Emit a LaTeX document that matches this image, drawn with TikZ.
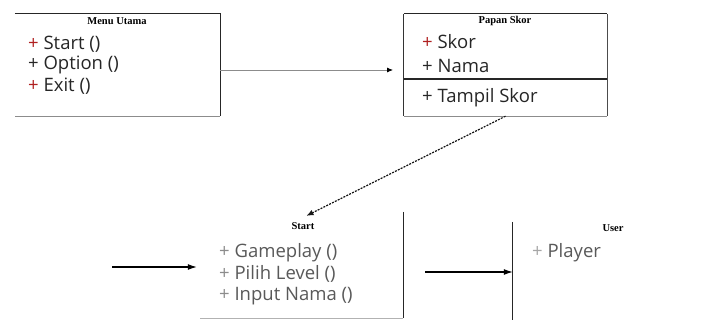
\documentclass[tikz,border=0pt]{standalone}
\usepackage{fontspec}
\setmainfont{Open Sans}
\newfontfamily\titlefont{Liberation Serif}
\usetikzlibrary{arrows.meta}
\definecolor{plusred}{HTML}{B02020}
\tikzset{
  umlbox/.style 2 args={inner sep=0pt, minimum width=#1, minimum height=#2},
  item/.style={anchor=west, inner sep=0pt, font=\fontsize{18.5}{20}\selectfont, text=black!85},
  itemlight/.style={item, text=black!65},
  ttl/.style={inner sep=0pt, font=\titlefont\bfseries\fontsize{10.5}{12}\selectfont},
  edge/.style={line width=1.3pt, black!85},
  lowedge/.style={line width=1.2pt, black!45},
  arr/.style={line width=1.1pt, -{Latex[length=9pt,width=6pt]}},
  thinarr/.style={line width=0.8pt, black!45, -{Latex[length=6pt,width=5pt,fill=black,black]}},
  dasharr/.style={line width=1.2pt, black!90, dash pattern=on 2pt off 1.2pt, -{Latex[length=7pt,width=6pt]}}
}
\begin{document}
\begin{tikzpicture}[x=1pt,y=-1pt]
\useasboundingbox[fill=white] (0,0) rectangle (707,320);

% Menu Utama
\node[umlbox={205pt}{102pt}] (mu) at (117.5,65) {};
\draw[edge] (mu.north west) -- (mu.north east) -- (mu.south east);
\draw[lowedge] (mu.south east) -- (mu.south west);
\node[ttl] (mut) at (117,21) {Menu Utama};
\node[item] (mu1) at (28,44) {\textcolor{plusred}{+} Start ()};
\node[item] (mu2) at (28,65) {+ Option ()};
\node[item] (mu3) at (28,86) {\textcolor{plusred}{+} Exit ()};

% Papan Skor
\node[umlbox={203pt}{102pt}] (ps) at (505.5,65) {};
\draw[edge] (ps.north west) -- (ps.north east);
\draw[line width=1pt, black!70] (ps.north east) -- (ps.south east);
\draw[line width=1pt, black!80] (ps.north west) -- (ps.south west);
\draw[lowedge] (ps.south west) -- (ps.south east);
\draw[edge] (ps.west |- 0,79) coordinate (psd1) -- (ps.east |- psd1);
\node[ttl] (pst) at (505,21) {Papan Skor};
\node[item] (ps1) at (422,42) {\textcolor{plusred}{+} Skor};
\node[item] (ps2) at (422,66) {+ Nama};
\node[item] (ps3) at (422,98) {+ Tampil Skor};

% arrow Menu Utama -> Papan Skor
\coordinate (a1) at (393,70);
\draw[thinarr] (mu.east |- a1) -- (a1);

% Start
\node[umlbox={203pt}{102pt}] (st) at (301.5,267) {};
\draw[edge] ([yshift=4pt]st.north east) -- (st.south east);
\draw[lowedge, black!30] (st.south east) -- (st.south west);
\node[ttl] (stt) at (303,226) {Start};
\node[itemlight] (st1) at (219,253) {\textcolor{black!45}{+} Gameplay ()};
\node[itemlight] (st2) at (219,274) {\textcolor{black!45}{+} Pilih Level ()};
\node[itemlight] (st3) at (219,296) {\textcolor{black!45}{+} Input Nama ()};

% dashed Papan Skor -> Start
\draw[dasharr] (ps.south) -- ([xshift=5pt]st.north);

% incoming arrow to Start
\coordinate (in) at (112,267);
\draw[arr] (in) -- ([xshift=-3pt]st.west);

% User
\node[umlbox={200pt}{98pt}] (us) at (613,271) {};
\draw[edge] (us.north west) -- ([yshift=-2pt]us.south west);
\draw[line width=0.8pt, black!12] ([yshift=-7pt]us.south west) -- ([yshift=-7pt]us.south east);
\node[ttl] (ust) at (613,228) {User};
\node[itemlight] (us1) at (532,253) {\textcolor{black!35}{+} Player};

% arrow Start -> User
\coordinate (o) at (425,272);
\draw[arr] (o) -- (us.west |- o);
\end{tikzpicture}
\end{document}
